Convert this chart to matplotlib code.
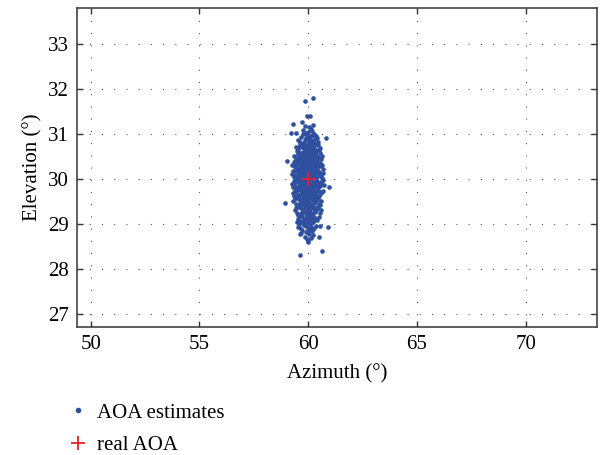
import matplotlib
matplotlib.use('Agg')
import matplotlib.pyplot as plt
from matplotlib.lines import Line2D

plt.rcParams['font.family'] = ['Liberation Serif', 'DejaVu Serif']

# estimated AOA points (elevation bands of 0.2 deg)
azimuth_est = [
    59.78, 60.05, 59.92, 60.18, 59.85, 60.12, 59.98, 60.26,
    59.52, 59.68, 59.81, 59.95, 60.08, 60.21, 60.35, 60.47, 59.74, 59.88,
    60.02, 60.15, 60.29, 59.61, 59.99, 60.11, 60.41, 59.85, 60.24, 59.93,
    59.42, 59.55, 59.66, 59.77, 59.86, 59.94, 60.03, 60.12, 60.21, 60.32,
    60.44, 60.56, 59.49, 59.61, 59.72, 59.83, 59.91, 60.00, 60.07, 60.17,
    60.26, 60.38, 60.51, 59.58, 59.80, 59.97, 60.09, 60.23, 60.35, 59.69,
    59.33, 59.45, 59.54, 59.63, 59.71, 59.79, 59.86, 59.93, 60.00, 60.06,
    60.13, 60.20, 60.28, 60.37, 60.46, 60.58, 59.40, 59.51, 59.60, 59.68,
    59.75, 59.83, 59.90, 59.97, 60.03, 60.10, 60.17, 60.24, 60.33, 60.42,
    60.53, 60.63, 59.57, 59.73, 59.88, 60.01, 60.15, 60.30, 59.65, 60.08,
    59.27, 59.38, 59.47, 59.56, 59.64, 59.72, 59.79, 59.86, 59.92, 59.98,
    60.04, 60.10, 60.16, 60.23, 60.30, 60.38, 60.47, 60.56, 60.67, 59.34,
    59.43, 59.52, 59.60, 59.68, 59.76, 59.83, 59.90, 59.96, 60.02, 60.08,
    60.14, 60.20, 60.27, 60.35, 60.44, 60.53, 60.62, 59.58, 59.74, 59.88,
    60.00, 60.12, 60.25, 60.40, 59.95,
    59.25, 59.35, 59.44, 59.52, 59.60, 59.67, 59.74, 59.81, 59.87, 59.93,
    59.99, 60.05, 60.11, 60.17, 60.24, 60.31, 60.39, 60.48, 60.58, 60.70,
    59.30, 59.40, 59.49, 59.57, 59.64, 59.71, 59.78, 59.84, 59.90, 59.96,
    60.02, 60.08, 60.14, 60.21, 60.28, 60.36, 60.45, 60.54, 60.64, 59.55,
    59.69, 59.82, 59.94, 60.06, 60.19, 60.33, 60.50, 59.76, 60.00, 60.12,
    59.26, 59.36, 59.45, 59.53, 59.61, 59.68, 59.75, 59.82, 59.88, 59.94,
    60.00, 60.06, 60.12, 60.18, 60.25, 60.32, 60.40, 60.49, 60.59, 60.72,
    59.31, 59.41, 59.50, 59.58, 59.65, 59.72, 59.79, 59.85, 59.91, 59.97,
    60.03, 60.09, 60.15, 60.22, 60.29, 60.37, 60.46, 60.55, 60.66, 59.56,
    59.70, 59.83, 59.95, 60.07, 60.20, 60.34, 60.52, 59.77, 60.01, 60.13,
    59.29, 59.39, 59.48, 59.56, 59.63, 59.70, 59.77, 59.84, 59.90, 59.96,
    60.02, 60.08, 60.14, 60.21, 60.28, 60.36, 60.45, 60.55, 60.66, 59.34,
    59.44, 59.53, 59.60, 59.67, 59.74, 59.81, 59.87, 59.93, 59.99, 60.05,
    60.11, 60.17, 60.24, 60.32, 60.41, 60.50, 60.61, 59.58, 59.73, 59.86,
    59.98, 60.10, 60.23, 60.38, 59.94,
    59.32, 59.43, 59.52, 59.60, 59.68, 59.75, 59.82, 59.89, 59.95, 60.01,
    60.07, 60.14, 60.21, 60.29, 60.38, 60.48, 60.60, 59.38, 59.48, 59.57,
    59.65, 59.72, 59.79, 59.86, 59.92, 59.98, 60.04, 60.11, 60.18, 60.26,
    60.34, 60.43, 60.54, 59.63, 59.78, 59.91, 60.03, 60.16, 60.31, 60.00,
    59.40, 59.50, 59.58, 59.66, 59.73, 59.80, 59.87, 59.93, 59.99, 60.05,
    60.11, 60.18, 60.25, 60.33, 60.42, 60.52, 60.60, 59.45, 59.55, 59.63,
    59.70, 59.77, 59.84, 59.90, 59.96, 60.02, 60.08, 60.15, 60.22, 60.30,
    60.38, 60.47, 59.76, 59.97, 60.13,
    59.52, 59.61, 59.69, 59.76, 59.83, 59.90, 59.96, 60.02, 60.08, 60.15,
    60.22, 60.30, 60.39, 60.48, 59.57, 59.66, 59.74, 59.81, 59.88, 59.94,
    60.00, 60.06, 60.13, 60.20, 60.28,
    59.62, 59.72, 59.80, 59.88, 59.95, 60.02, 60.09, 60.17, 60.26, 60.36,
    59.69, 59.84, 59.98, 60.12, 60.22,
    59.83, 59.93, 60.02, 60.11, 60.20, 59.97,
    59.86, 60.23, 59.94, 60.09, 59.28, 59.72, 60.24, 59.22, 59.44, 60.84,
    59.04, 60.96, 58.94, 60.92, 60.52, 59.48, 59.53, 59.62, 60.01, 60.50,
    60.63, 59.63,
]
elevation_est = [
    31.08, 31.15, 31.02, 31.06, 31.18, 31.11, 31.04, 31.01,
    30.86, 30.93, 30.81, 30.97, 30.88, 30.84, 30.95, 30.82, 30.99, 30.90,
    30.85, 30.96, 30.89, 30.83, 30.92, 30.80, 30.91, 30.87, 30.98, 30.94,
    30.72, 30.65, 30.78, 30.61, 30.74, 30.68, 30.79, 30.63, 30.71, 30.66,
    30.75, 30.69, 30.62, 30.77, 30.70, 30.64, 30.76, 30.60, 30.73, 30.67,
    30.78, 30.62, 30.64, 30.70, 30.68, 30.74, 30.66, 30.61, 30.77, 30.73,
    30.52, 30.44, 30.57, 30.48, 30.41, 30.55, 30.46, 30.59, 30.43, 30.51,
    30.47, 30.58, 30.42, 30.54, 30.49, 30.45, 30.40, 30.53, 30.44, 30.58,
    30.50, 30.42, 30.55, 30.48, 30.56, 30.41, 30.53, 30.46, 30.59, 30.43,
    30.57, 30.50, 30.47, 30.45, 30.52, 30.44, 30.58, 30.51, 30.55, 30.48,
    30.31, 30.26, 30.37, 30.22, 30.34, 30.28, 30.39, 30.24, 30.33, 30.21,
    30.36, 30.27, 30.38, 30.23, 30.32, 30.25, 30.35, 30.29, 30.22, 30.38,
    30.30, 30.24, 30.36, 30.27, 30.33, 30.21, 30.29, 30.37, 30.26, 30.34,
    30.22, 30.31, 30.39, 30.25, 30.28, 30.35, 30.32, 30.20, 30.30, 30.23,
    30.28, 30.37, 30.34, 30.21, 30.26,
    30.12, 30.05, 30.17, 30.02, 30.14, 30.08, 30.19, 30.03, 30.11, 30.16,
    30.06, 30.18, 30.01, 30.13, 30.09, 30.15, 30.04, 30.10, 30.07, 30.14,
    30.18, 30.09, 30.03, 30.15, 30.01, 30.12, 30.06, 30.17, 30.04, 30.10,
    30.19, 30.02, 30.16, 30.08, 30.13, 30.05, 30.17, 30.11, 30.02, 30.07,
    30.15, 30.10, 30.04, 30.13, 30.00, 30.08, 30.16, 30.11, 30.07, 30.14,
    29.88, 29.95, 29.83, 29.98, 29.86, 29.92, 29.81, 29.97, 29.89, 29.84,
    29.94, 29.82, 29.99, 29.87, 29.91, 29.85, 29.96, 29.90, 29.93, 29.86,
    29.82, 29.91, 29.97, 29.85, 29.99, 29.88, 29.94, 29.83, 29.96, 29.90,
    29.81, 29.98, 29.84, 29.92, 29.87, 29.95, 29.83, 29.89, 29.98, 29.93,
    29.85, 29.90, 29.96, 29.87, 29.80, 29.92, 29.84, 29.89, 29.93, 29.86,
    29.69, 29.75, 29.63, 29.78, 29.66, 29.72, 29.61, 29.77, 29.68, 29.64,
    29.74, 29.62, 29.79, 29.67, 29.71, 29.65, 29.76, 29.70, 29.73, 29.62,
    29.71, 29.77, 29.65, 29.79, 29.68, 29.74, 29.63, 29.76, 29.70, 29.61,
    29.78, 29.64, 29.72, 29.67, 29.75, 29.63, 29.69, 29.78, 29.66, 29.71,
    29.76, 29.67, 29.60, 29.72, 29.65,
    29.51, 29.45, 29.57, 29.42, 29.54, 29.48, 29.59, 29.43, 29.52, 29.46,
    29.56, 29.41, 29.53, 29.49, 29.58, 29.44, 29.50, 29.55, 29.41, 29.58,
    29.47, 29.53, 29.44, 29.57, 29.40, 29.49, 29.55, 29.42, 29.59, 29.46,
    29.51, 29.56, 29.43, 29.50, 29.45, 29.54, 29.48, 29.42, 29.57, 29.47,
    29.31, 29.25, 29.37, 29.22, 29.34, 29.28, 29.39, 29.23, 29.32, 29.26,
    29.36, 29.21, 29.33, 29.29, 29.38, 29.24, 29.30, 29.36, 29.21, 29.38,
    29.27, 29.33, 29.24, 29.37, 29.20, 29.29, 29.35, 29.22, 29.39, 29.26,
    29.31, 29.35, 29.28, 29.34, 29.25,
    29.12, 29.06, 29.17, 29.03, 29.14, 29.08, 29.19, 29.04, 29.11, 29.16,
    29.05, 29.13, 29.09, 29.15, 29.01, 29.18, 29.07, 29.12, 29.02, 29.16,
    29.10, 29.14, 29.03, 29.18, 29.08,
    28.92, 28.86, 28.97, 28.83, 28.94, 28.88, 28.99, 28.84, 28.91, 28.95,
    28.81, 28.98, 28.85, 28.93, 28.89,
    28.72, 28.66, 28.78, 28.69, 28.75, 28.62,
    31.74, 31.79, 31.39, 31.41, 31.23, 31.27, 31.20, 31.02, 31.03, 30.90,
    30.39, 29.83, 29.47, 28.93, 28.96, 29.04, 28.94, 28.78, 28.60, 28.72,
    28.41, 28.32,
]

real_azimuth = [60]
real_elevation = [30]

x_ticks = [50, 55, 60, 65, 70]
y_ticks = [27, 28, 29, 30, 31, 32, 33]

fig = plt.figure(figsize=(6.05, 4.55), dpi=100)
ax = fig.add_axes([0.1273, 0.2813, 0.8595, 0.7011])

ax.scatter(azimuth_est, elevation_est, s=11, color='#2f4f9f', linewidths=0,
           zorder=3)
ax.plot(real_azimuth, real_elevation, '+', color='#e8202a', markersize=10,
        markeredgewidth=1.3, zorder=4)

ax.set_xlim(49.37, 73.28)
ax.set_ylim(26.71, 33.8)
ax.set_xticks(x_ticks)
ax.set_yticks(y_ticks)
ax.grid(True, color='#555555', linestyle=(0, (1, 10)), linewidth=0.8)
ax.tick_params(direction='in', top=True, right=True, length=4, width=1,
               labelsize=15, color='#333333', pad=6)
for sp in ax.spines.values():
    sp.set_color('#444444')
    sp.set_linewidth(1.2)

ax.set_xlabel('Azimuth (°)', fontsize=15, labelpad=7)
ax.set_ylabel('Elevation (°)', fontsize=15, labelpad=4)

handles = [
    Line2D([], [], marker='o', linestyle='none', color='#2f4f9f',
           markersize=3),
    Line2D([], [], marker='+', linestyle='none', color='#e8202a',
           markersize=10, markeredgewidth=1.3),
]
fig.legend(handles, ['AOA estimates', 'real AOA'], loc='upper left',
           bbox_to_anchor=(0.112, 0.114), frameon=False, fontsize=15,
           handlelength=1.0, handletextpad=0.4, labelspacing=0.62,
           borderaxespad=0, borderpad=0)

fig.savefig('out.png', dpi=100)
